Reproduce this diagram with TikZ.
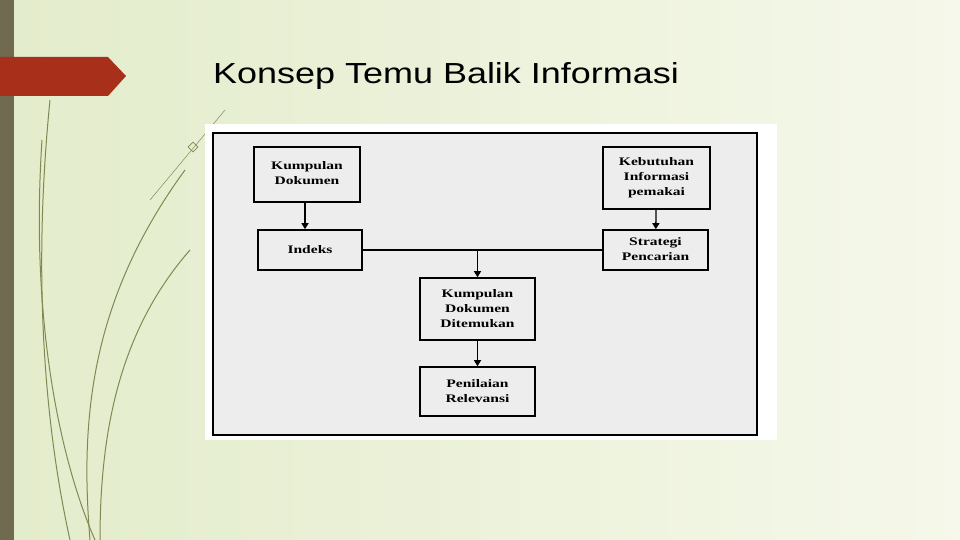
\documentclass[tikz,border=0pt]{standalone}
\usepackage{fontspec}
\setmainfont{Liberation Serif}
\newfontfamily\titlefont{Liberation Sans}
\usetikzlibrary{arrows.meta,shapes.geometric}
\definecolor{bgA}{HTML}{E3ECCB}
\definecolor{bgB}{HTML}{F5F8EA}
\definecolor{barc}{HTML}{6F6A50}
\definecolor{arrc}{HTML}{A8301A}
\definecolor{linec}{HTML}{7E8A52}
\definecolor{inner}{HTML}{EDEDED}
\newcommand{\wtxt}[1]{\scalebox{1.35}[1]{\begin{tabular}{@{}c@{}}#1\end{tabular}}}
\tikzset{
  fbox/.style={draw=black,line width=1.6pt,fill=inner,font=\bfseries\fontsize{11.5}{15}\selectfont,align=center,inner sep=0pt},
  conn/.style={line width=1.3pt,-{Triangle[length=6pt,width=7pt]}},
  deco/.style={draw=linec,line width=1pt}
}
\begin{document}
\begin{tikzpicture}[x=1pt,y=-1pt]
\useasboundingbox (0,0) rectangle (960,540);
\shade[left color=bgA,right color=bgB] (0,0) rectangle (960,540);
\fill[barc] (0,0) rectangle (14,540);
\fill[arrc] (0,57) -- (108,57) -- (126,76) -- (108,96) -- (0,96) -- cycle;
\draw[deco] (50,100) .. controls (30,300) and (50,450) .. (70,540);
\draw[deco] (42,140) .. controls (30,320) and (60,460) .. (95,540);
\draw[deco] (190,250) .. controls (120,330) and (100,430) .. (100,540);
\draw[deco] (185,170) .. controls (90,300) and (80,420) .. (90,540);
\draw[deco,line width=0.5pt] (225,110) -- (150,200);
\node[font=\titlefont\fontsize{29}{32}\selectfont,anchor=west,inner sep=0pt] (title) at (213,76) {\scalebox{1.24}[1]{Konsep Temu Balik Informasi}};
\node[diamond,draw=linec,line width=0.8pt,minimum size=10pt,inner sep=0pt] (bul) at (193,147) {};
\fill[white] (205,124) rectangle (777,440);
\draw[fill=inner,line width=1.6pt] (213,133) rectangle (757,435);
\node[fbox,minimum width=106pt,minimum height=55pt] (kd) at (307,174.5) {\wtxt{Kumpulan\\Dokumen}};
\node[fbox,minimum width=107pt,minimum height=62pt] (kip) at (656.5,178) {\wtxt{Kebutuhan\\Informasi\\pemakai}};
\node[fbox,minimum width=104pt,minimum height=40pt] (idx) at (310,250) {\wtxt{Indeks}};
\node[fbox,minimum width=105pt,minimum height=40pt] (sp) at (655.5,250) {\wtxt{Strategi\\Pencarian}};
\node[fbox,minimum width=115pt,minimum height=62pt] (kdd) at (477.5,309) {\wtxt{Kumpulan\\Dokumen\\Ditemukan}};
\node[fbox,minimum width=115pt,minimum height=49pt] (pr) at (477.5,391.5) {\wtxt{Penilaian\\Relevansi}};
\draw[conn] (kd.south -| 305,0) -- (idx.north -| 305,0);
\draw[conn] (kip) -- (sp);
\draw[line width=1.3pt] (idx) -- (sp);
\coordinate (j) at (kdd.north |- idx);
\draw[conn] (j) -- (kdd);
\draw[conn] (kdd) -- (pr);
\end{tikzpicture}
\end{document}
